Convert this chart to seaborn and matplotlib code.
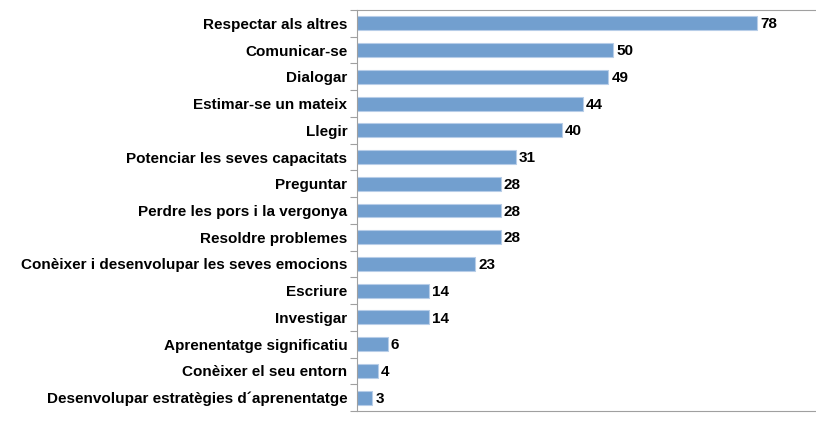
import pandas as pd
import numpy as np
import matplotlib
matplotlib.use('Agg')
import matplotlib.pyplot as plt
import seaborn as sns

# -----------------------------
# Data
# -----------------------------

categories = [
    'Respectar als altres',
    'Comunicar-se',
    'Dialogar',
    'Estimar-se un mateix',
    'Llegir',
    'Potenciar les seves capacitats',
    'Preguntar',
    'Perdre les pors i la vergonya',
    'Resoldre problemes',
    'Conèixer i desenvolupar les seves emocions',
    'Escriure',
    'Investigar',
    'Aprenentatge significatiu',
    'Conèixer el seu entorn',
    'Desenvolupar estratègies d´aprenentatge',
]
values = [78, 50, 49, 44, 40, 31, 28, 28, 28, 23, 14, 14, 6, 4, 3]

df = pd.DataFrame({'categoria': categories, 'valor': values})

# -----------------------------
# Plot
# -----------------------------

sns.set_style('white')
plt.rcParams['font.family'] = ['Liberation Sans', 'DejaVu Sans']
plt.rcParams['text.color'] = 'black'
plt.rcParams['ytick.color'] = 'black'

fig = plt.figure(figsize=(8.16, 4.21), dpi=100)
ax = fig.add_axes([357 / 816, 10 / 421, 459 / 816, 401 / 421])

sns.barplot(
    data=df,
    x='valor',
    y='categoria',
    orient='h',
    color='#729FCF',
    saturation=1,
    width=0.52,
    edgecolor='#B7CDE8',
    linewidth=0.8,
    ax=ax
)

ax.set_xlim(0, 89.5)
ax.set_ylim(len(categories) - 0.5, -0.5)
ax.set_xlabel('')
ax.set_ylabel('')
ax.set_xticks([])

# value labels
for i, v in enumerate(values):
    ax.text(v + 0.6, i + 0.04, str(v), va='center', ha='left',
            fontsize=11, fontweight='bold', color='black')

# ticks between categories
ax.set_yticks(range(len(categories)))
ax.set_yticklabels(categories, fontsize=11, fontweight='bold', color='black')
ax.tick_params(axis='y', which='major', length=0, pad=7)
ax.set_yticks(np.arange(-0.5, len(categories), 1), minor=True)
ax.tick_params(axis='y', which='minor', length=5, width=0.8,
               color='#A0A0A0', left=True)

for side in ['left', 'top', 'bottom']:
    ax.spines[side].set_color('#A0A0A0')
    ax.spines[side].set_linewidth(0.8)
ax.spines['right'].set_visible(False)

plt.savefig('out.png', dpi=100)
